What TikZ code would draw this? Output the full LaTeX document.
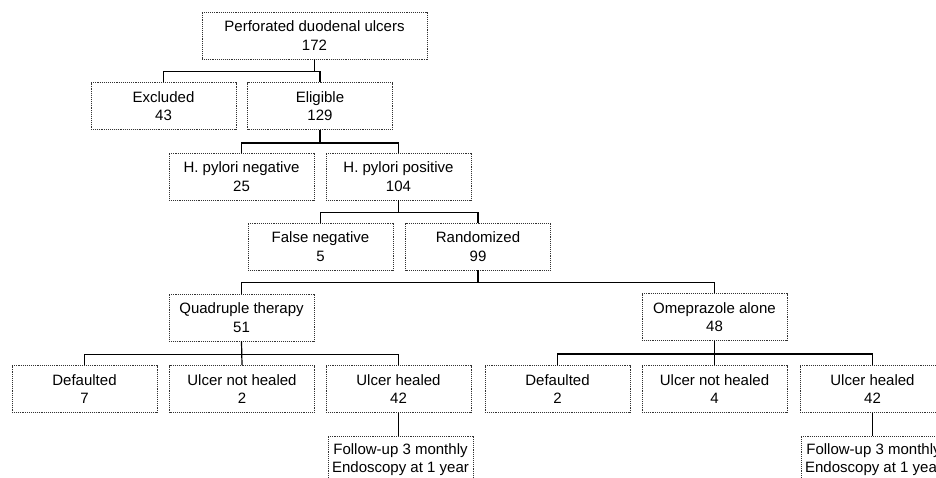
\documentclass[tikz,border=0pt]{standalone}
\usepackage{fontspec}
\setmainfont{Liberation Sans}
\usepackage{tikz}

\tikzset{
  flowbox/.style={draw=black!80, densely dotted, line width=0.9pt, minimum width=145pt, minimum height=47pt,
    inner sep=0pt, align=center, font=\fontsize{15}{18.5}\selectfont},
  link/.style={draw=black, line width=1.2pt, solid}
}

\begin{document}
\begin{tikzpicture}[x=1pt,y=-1pt]
\useasboundingbox (0,0) rectangle (936,477);
\clip (0,0) rectangle (936,477);
% boxes
\node[flowbox, minimum width=225pt] (total) at (314.5,35.5) {Perforated duodenal ulcers\\172};
\node[flowbox] (excl) at (163.5,106) {Excluded\\43};
\node[flowbox] (elig) at (320,106) {Eligible\\129};
\node[flowbox] (hpneg) at (241.5,176.5) {H. pylori negative\\25};
\node[flowbox] (hppos) at (398.5,176.5) {H. pylori positive\\104};
\node[flowbox] (falseneg) at (320.5,246.5) {False negative\\5};
\node[flowbox] (rand) at (478,246.5) {Randomized\\99};
\node[flowbox] (quad) at (241.5,317.5) {Quadruple therapy\\51};
\node[flowbox] (omep) at (714.5,317) {Omeprazole alone\\48};
\node[flowbox] (qdef) at (84.5,389) {Defaulted\\7};
\node[flowbox] (qnot) at (242,389) {Ulcer not healed\\2};
\node[flowbox] (qheal) at (398.5,389) {Ulcer healed\\42};
\node[flowbox] (odef) at (557.5,389) {Defaulted\\2};
\node[flowbox] (onot) at (714.5,389) {Ulcer not healed\\4};
\node[flowbox] (oheal) at (872.5,389) {Ulcer healed\\42};
\node[flowbox] (qfup) at (400.5,459.5) {Follow-up 3 monthly\\Endoscopy at 1 year};
\node[flowbox] (ofup) at (873.5,459.5) {Follow-up 3 monthly\\Endoscopy at 1 year};
% connectors
\draw[link] (total.south) -- ++(0,12) -| (excl.north);
\draw[link] (total.south) -- ++(0,12) -| (elig.north);
\draw[link] (elig.south) -- ++(0,13) -| (hpneg.north);
\draw[link] (elig.south) -- ++(0,13) -| (hppos.north);
\draw[link] (hppos.south) -- ++(0,12) -| (falseneg.north);
\draw[link] (hppos.south) -- ++(0,12) -| (rand.north);
\draw[link] (rand.south) -- ++(0,12) -| (quad.north);
\draw[link] (rand.south) -- ++(0,12) -| (omep.north);
\draw[link] (quad.south) -- ++(0,13) -| (qdef.north);
\draw[link] (quad.south) -- (qnot.north);
\draw[link] (quad.south) -- ++(0,13) -| (qheal.north);
\draw[link] (omep.south) -- ++(0,13) -| (odef.north);
\draw[link] (omep.south) -- (onot.north);
\draw[link] (omep.south) -- ++(0,13) -| (oheal.north);
\draw[link] (qheal.south) -- (qheal.south |- qfup.north);
\draw[link] (oheal.south) -- (oheal.south |- ofup.north);
\end{tikzpicture}
\end{document}
